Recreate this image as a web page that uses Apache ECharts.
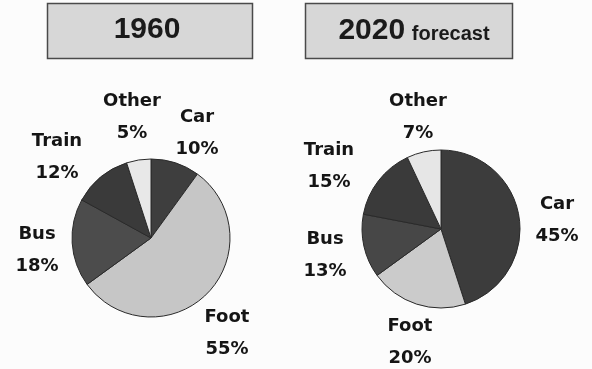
<!DOCTYPE html>
<html>
<head>
<meta charset="utf-8">
<script src="https://cdn.jsdelivr.net/npm/echarts@6/dist/echarts.min.js"></script>
<style>
html,body{margin:0;padding:0;background:#fcfcfc;}
#chart{width:592px;height:369px;}
</style>
</head>
<body>
<div id="chart"></div>
<script>
// Data
var categories = ['Car', 'Foot', 'Bus', 'Train', 'Other'];
var values1960 = [10, 55, 18, 12, 5];
var values2020 = [45, 20, 13, 15, 7];
var title1960 = '1960';
var title2020 = '2020';
var title2020Sub = 'forecast';

// Styles (not data)
var colors1960 = ['#3e3e3e', '#c6c6c6', '#4c4c4c', '#3a3a3a', '#e8e8e8'];
var colors2020 = ['#3c3c3c', '#cbcbcb', '#474747', '#3a3a3a', '#e6e6e6'];

// Label positions (layout, keyed by series then category)
var labelPos = [
  {Car: [197, 133], Foot: [227, 333], Bus: [37, 250], Train: [57, 157], Other: [132, 117]},
  {Car: [557, 220], Foot: [410, 342], Bus: [325, 255], Train: [329, 166], Other: [418, 117]}
];

function build(values, colors) {
  return categories.map(function (c, i) {
    return {name: c, value: values[i], itemStyle: {color: colors[i]}};
  });
}

var labelStyle = {
  show: true,
  position: 'inside',
  overflow: 'none',
  formatter: '{b}\n{c}%',
  fontFamily: 'DejaVu Sans',
  fontWeight: 'bold',
  fontSize: 18,
  lineHeight: 32,
  color: '#151515',
  align: 'center'
};

function makeLayout(si) {
  return function (params) {
    var p = labelPos[si][categories[params.dataIndex]];
    return {x: p[0], y: p[1], align: 'center', verticalAlign: 'middle'};
  };
}

var chart = echarts.init(document.getElementById('chart'), null, {renderer: 'canvas'});
chart.setOption({
  backgroundColor: '#fcfcfc',
  animation: false,
  graphic: [
    {type: 'rect', shape: {x: 47.5, y: 3.5, width: 205, height: 55},
      style: {fill: '#d7d7d7', stroke: '#4a4a4a', lineWidth: 1.5}},
    {type: 'text', x: 147, y: 30,
      style: {text: title1960, font: 'bold 30px "Liberation Sans"', fill: '#1a1a1a',
        align: 'center', verticalAlign: 'middle'}},
    {type: 'rect', shape: {x: 305.5, y: 3.5, width: 207, height: 55},
      style: {fill: '#d7d7d7', stroke: '#4a4a4a', lineWidth: 1.5}},
    {type: 'text', x: 414, y: 31,
      style: {
        text: '{a|' + title2020 + '}  {b|' + title2020Sub + '}',
        align: 'center', verticalAlign: 'middle',
        rich: {
          a: {font: 'bold 30px "Liberation Sans"', fill: '#1a1a1a', verticalAlign: 'bottom'},
          b: {font: 'bold 20px "Liberation Sans"', fill: '#1a1a1a', verticalAlign: 'bottom', padding: [0, 0, 2, 0]}
        }
      }}
  ],
  series: [
    {
      type: 'pie',
      center: [151, 238],
      radius: 79,
      startAngle: 90,
      clockwise: true,
      data: build(values1960, colors1960),
      itemStyle: {borderColor: '#2a2a2a', borderWidth: 1},
      label: labelStyle,
      labelLine: {show: false},
      labelLayout: makeLayout(0),
      emphasis: {disabled: true}
    },
    {
      type: 'pie',
      center: [441, 229],
      radius: 79,
      startAngle: 90,
      clockwise: true,
      data: build(values2020, colors2020),
      itemStyle: {borderColor: '#2a2a2a', borderWidth: 1},
      label: labelStyle,
      labelLine: {show: false},
      labelLayout: makeLayout(1),
      emphasis: {disabled: true}
    }
  ]
});
</script>
</body>
</html>
